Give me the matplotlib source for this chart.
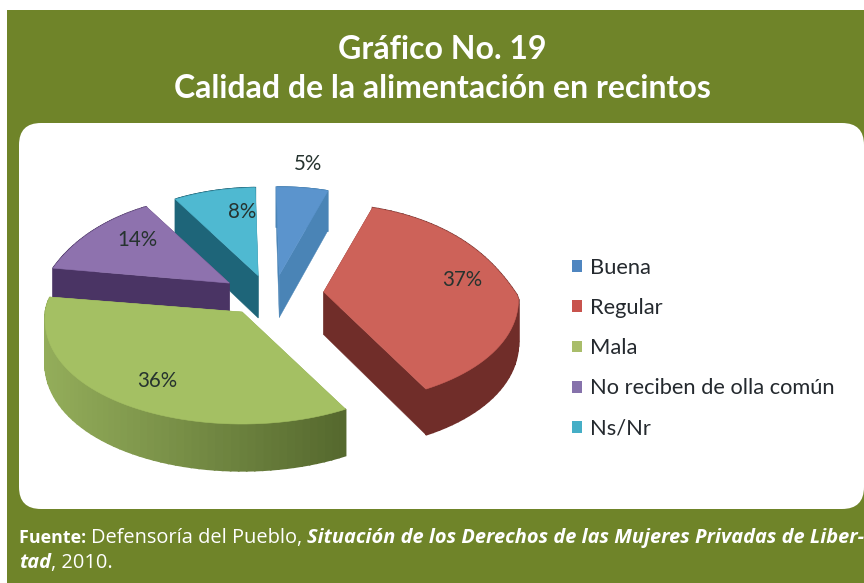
import numpy as np
import matplotlib
matplotlib.use("Agg")
import matplotlib.pyplot as plt
from matplotlib.patches import FancyBboxPatch, Polygon, Rectangle, Patch
from matplotlib.colors import to_rgb

# ---- data ----
categories = ["Buena", "Regular", "Mala", "No reciben de olla común", "Ns/Nr"]
values = [5, 37, 36, 14, 8]
value_labels = ["5%", "37%", "36%", "14%", "8%"]
title_lines = ["Gráfico No. 19", "Calidad de la alimentación en recintos"]

# ---- style ----
top_colors = ["#5b94cd", "#cd6259", "#a4c063", "#8e72ae", "#4fb9d1"]
wall_colors = ["#4a84b6", "#702d29", "#93ad5a", "#4a3464", "#1e6579"]
legend_colors = ["#4f86c0", "#c8534d", "#a9bd6a", "#8672ab", "#45aec6"]
label_radius = [1.24, 0.74, 0.75, 0.75, 0.70]
label_nudge = [(0, -3), (1, -5), (3, 0), (14, -5), (15, -4)]
draw_order = [4, 0, 3, 1, 2]
GREEN = "#6f8429"

W, H = 864, 583
fig = plt.figure(figsize=(W / 100, H / 100), dpi=100, facecolor="white")
ax = fig.add_axes([0, 0, 1, 1])
ax.set_xlim(0, W)
ax.set_ylim(H, 0)
ax.axis("off")

R = 22
ax.add_patch(Rectangle((7, 10), W - 7, H - 10, fc=GREEN, ec="none", zorder=0))
ax.add_patch(FancyBboxPatch((19 + R, 123 + R), 845 - 2 * R, 386 - 2 * R,
                            boxstyle=f"round,pad={R},rounding_size={R}",
                            fc="white", ec="none", zorder=1))

cx0, cy0 = 272, 294
A, B_BACK, B_FRONT = 195, 88, 112
EX_X, EX_Y_BACK, EX_Y_FRONT = 52, 19, 22


def rim(tx, ty, theta, r=1.0):
    """Point of a slice's top face, with the far side of the pie drawn narrower."""
    c, s = np.cos(theta), np.sin(theta)
    b = np.where(s > 0, B_BACK, B_FRONT)
    y = ty - r * b * s
    far = 1 - np.exp(-np.maximum(0, 297 - y) / 40)
    near = np.maximum(0, y - 297)
    g = 1 - 0.16 * far + 0.0006 * near
    return tx + r * A * g * c, y


def depth(y):
    return 43 + 0.03 * (np.asarray(y, float) - 297)


fracs = np.array(values) / np.sum(values)
edges = np.deg2rad(91 - 360 * np.concatenate([[0], np.cumsum(fracs)]))


def tip_of(i):
    mid = (edges[i] + edges[i + 1]) / 2
    c, s = np.cos(mid), np.sin(mid)
    return (cx0 + EX_X * c, cy0 - (EX_Y_BACK if s > 0 else EX_Y_FRONT) * s)


for i in draw_order:
    tx, ty = tip_of(i)
    th = np.linspace(edges[i], edges[i + 1], 60)
    rx, ry = rim(tx, ty, th)
    rd = ry + depth(ry)
    wall = wall_colors[i]
    # radial walls
    for k in (0, -1):
        ax.add_patch(Polygon([(tx, ty), (rx[k], ry[k]), (rx[k], rd[k]), (tx, ty + depth(ty))],
                             closed=True, fc=wall, ec=wall, lw=0.3, zorder=3))
    # rim, with a left-to-right shading
    start, end = np.array(to_rgb(wall)), np.array(to_rgb("#54672d" if i == 2 else wall))
    span = max(rx.max() - rx.min(), 1)
    for j in range(len(th) - 1):
        t = (min(rx[j], rx[j + 1]) - rx.min()) / span
        col = start + (end - start) * t
        ax.add_patch(Polygon([(rx[j], ry[j]), (rx[j + 1], ry[j + 1]),
                              (rx[j + 1], rd[j + 1]), (rx[j], rd[j])],
                             closed=True, fc=col, ec=col, lw=1.2, zorder=3))
    # top face
    ax.add_patch(Polygon(np.column_stack([np.r_[tx, rx], np.r_[ty, ry]]), closed=True,
                         fc=top_colors[i], ec=top_colors[i], lw=0.4, zorder=3))

for i in range(len(values)):
    tx, ty = tip_of(i)
    mid = (edges[i] + edges[i + 1]) / 2
    lx, ly = rim(tx, ty, mid, label_radius[i])
    ax.text(float(lx) + label_nudge[i][0], float(ly) + label_nudge[i][1], value_labels[i],
            ha="center", va="center", fontsize=14.8, family="Lato", color="#26332f", zorder=5)

# ---- legend ----
handles = [Patch(fc=c, ec="none") for c in legend_colors]
leg = ax.legend(handles, categories, loc="upper left", bbox_to_anchor=(572 / W, 1 - 258 / H),
                frameon=False, labelspacing=0.92, handlelength=0.46, handleheight=0.46,
                handletextpad=0.37, borderpad=0, borderaxespad=0, labelcolor="#24292e",
                prop={"family": "Lato", "size": 15.75})
leg.set_zorder(5)

# ---- title ----
for text, base in zip(title_lines, (59, 98)):
    ax.text(442, base, text, ha="center", va="baseline", color="white", fontsize=23,
            fontweight="bold", family="Lato", zorder=5)

# ---- source note ----
renderer = fig.canvas.get_renderer()
runs = [("Fuente: ", 12.9, dict(fontweight="bold")),
        ("Defensoría del Pueblo, ", 14.45, dict()),
        ("Situación de los Derechos de las Mujeres Privadas de Liber-", 14.45,
         dict(fontweight="bold", style="italic"))]
x = 19.0
for txt, size, kw in runs:
    t = ax.text(x, 538, txt.replace(" ", "\u00a0"), color="white", fontsize=size, family="Open Sans",
                va="center", ha="left", zorder=5, **kw)
    x = t.get_window_extent(renderer).x1
t = ax.text(19, 563, "tad", color="white", fontsize=14.45, family="Open Sans", fontweight="bold",
            style="italic", va="center", ha="left", zorder=5)
ax.text(t.get_window_extent(renderer).x1, 563, ",\u00a02010.", color="white", fontsize=14.45,
        family="Open Sans", va="center", ha="left", zorder=5)

fig.savefig("out.png", dpi=100, facecolor="white")
